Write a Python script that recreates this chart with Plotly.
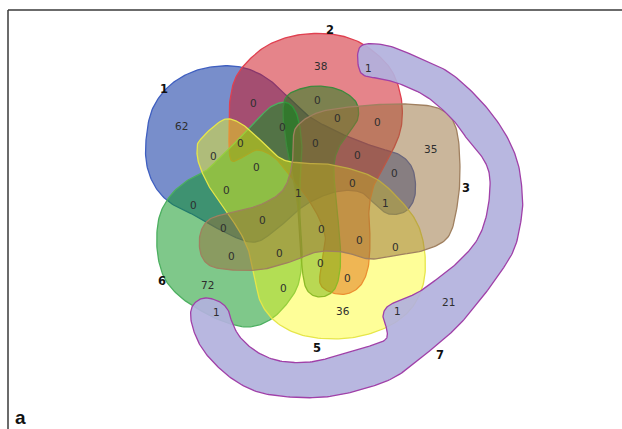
import numpy as np
import plotly.graph_objects as go

W, H = 622, 429

# Outline control points of each set (pixel space, y grows downward)
set_ids = ["1", "2", "6", "4", "5", "3", "7"]
set_outlines = {
    "1": [(146,140),(152,110),(168,87),(192,72),(220,66),(245,68),(268,79),(288,97),(310,117),(342,134),(375,147),(400,155),(413,170),(415,195),(406,211),(389,214),(376,205),(360,192),(335,192),(305,205),(278,228),(255,242),(228,234),(198,217),(172,204),(156,188),(147,166)],
    "2": [(230,100),(236,77),(250,59),(270,44),(298,35),(330,34),(357,41),(379,56),(393,73),(401,97),(402,121),(397,141),(386,162),(374,185),(369,210),(370,240),(368,268),(360,286),(346,294),(330,292),(320,283),(322,262),(325,235),(312,205),(292,178),(275,158),(258,150),(245,156),(231,160),(229,130)],
    "3": [(298,125),(320,112),(360,106),(405,104),(440,109),(456,128),(460,170),(457,207),(448,237),(425,250),(397,255),(370,259),(343,252),(317,252),(290,262),(257,270),(217,268),(202,257),(200,235),(210,219),(235,212),(262,204),(283,190),(292,165),(293,140)],
    "4": [(287,96),(300,89),(318,86),(340,90),(356,102),(358,118),(350,131),(340,145),(334,165),(336,200),(340,240),(340,270),(334,290),(320,297),(307,290),(302,268),(300,240),(297,200),(290,165),(285,135),(283,110)],
    "5": [(200,140),(223,120),(240,123),(257,137),(280,158),(300,163),(333,165),(373,177),(400,200),(418,225),(425,255),(423,285),(410,310),(385,328),(350,338),(310,337),(280,325),(262,305),(255,280),(250,255),(240,232),(225,210),(210,188),(200,167),(197,152)],
    "6": [(207,170),(188,180),(170,196),(159,218),(157,248),(163,275),(177,294),(198,309),(222,321),(247,327),(268,321),(285,306),(298,285),(302,255),(300,220),(300,185),(302,150),(298,118),(288,103),(272,106),(257,120),(240,138),(222,155)],
    "7": [(360,47),(385,45),(417,57),(450,73),(480,100),(503,130),(517,160),(522,190),(522,213),(515,247),(500,273),(480,300),(457,327),(427,353),(395,377),(360,390),(325,397),(290,397),(258,392),(234,380),(214,363),(200,345),(192,325),(191,310),(197,301),(207,298),(220,302),(228,310),(232,322),(240,337),(257,352),(280,361),(310,362),(340,355),(367,347),(385,340),(387,330),(383,317),(387,307),(400,300),(417,293),(433,282),(457,263),(477,240),(487,213),(490,180),(484,160),(470,143),(453,120),(427,97),(400,84),(383,79),(361,73)],
}
set_fill = {
    "1": "rgba(10,50,160,0.55)",
    "2": "rgba(205,20,30,0.52)",
    "3": "rgba(150,110,55,0.50)",
    "4": "rgba(20,125,20,0.50)",
    "5": "rgba(252,252,10,0.42)",
    "6": "rgba(10,150,30,0.52)",
    "7": "rgba(178,177,221,0.92)",
}
set_line = {
    "1": "#3f5fc0", "2": "#e04050", "3": "#a08060", "4": "#3d8a3d",
    "5": "#e6e64a", "6": "#4caf60", "7": "#a040a8",
}

# Set names and where they are printed
set_names = ["1", "2", "3", "5", "6", "7"]
set_label_xy = [(164,89), (330,30), (466,188), (317,348), (162,281), (440,355)]

# Region counts and their anchor points
region_counts = [62, 38, 35, 36, 72, 21, 1, 1, 1,
                 0, 0, 0, 0, 0, 0, 0, 0, 0, 0, 0, 0, 1, 0, 1, 0, 0,
                 0, 0, 0, 0, 0, 0, 0, 0, 0]
region_xy = [(181,126), (320,66), (430,149), (343,311), (207,285), (448,302),
             (368,68), (216,312), (397,311),
             (253,103), (317,100), (282,127), (337,118), (377,122), (240,143),
             (213,156), (315,143), (357,155), (256,167), (394,173), (226,190),
             (298,193), (352,183), (385,203), (193,205), (223,228),
             (262,220), (321,229), (359,240), (395,247), (231,256), (279,253),
             (320,263), (347,278), (283,288)]


def closed_spline(pts, n=14):
    p = np.array(pts, dtype=float)
    m = len(p)
    out = []
    for i in range(m):
        p0, p1, p2, p3 = p[(i - 1) % m], p[i], p[(i + 1) % m], p[(i + 2) % m]
        for t in np.linspace(0, 1, n, endpoint=False):
            t2, t3 = t * t, t * t * t
            out.append(0.5 * ((2 * p1) + (-p0 + p2) * t
                              + (2 * p0 - 5 * p1 + 4 * p2 - p3) * t2
                              + (-p0 + 3 * p1 - 3 * p2 + p3) * t3))
    out.append(out[0])
    out = np.array(out)
    return out[:, 0], out[:, 1]


fig = go.Figure()
for sid in set_ids:
    xs, ys = closed_spline(set_outlines[sid])
    fig.add_trace(go.Scatter(
        x=xs, y=ys, mode="lines", fill="toself",
        fillcolor=set_fill[sid],
        line=dict(color=set_line[sid], width=1.3),
        hoverinfo="skip", showlegend=False, name=sid))

annotations = []
for v, (x, y) in zip(region_counts, region_xy):
    annotations.append(dict(x=x, y=y, text=str(v), showarrow=False,
                            font=dict(family="DejaVu Sans", size=10.5, color="#2e2e2e"),
                            xanchor="center", yanchor="middle"))
for name, (x, y) in zip(set_names, set_label_xy):
    annotations.append(dict(x=x, y=y, text="<b>%s</b>" % name, showarrow=False,
                            font=dict(family="DejaVu Sans", size=11.5, color="#111"),
                            xanchor="center", yanchor="middle"))
annotations.append(dict(x=20, y=417, text="<b>a</b>", showarrow=False,
                        font=dict(family="Liberation Sans", size=19, color="#111"),
                        xanchor="center", yanchor="middle"))

# panel frame: top and left edges
frame = [
    dict(type="line", x0=8, y0=10, x1=W, y1=10, line=dict(color="#3a3a3a", width=1.5)),
    dict(type="line", x0=8, y0=10, x1=8, y1=H, line=dict(color="#3a3a3a", width=1.5)),
]

fig.update_layout(
    width=W, height=H, margin=dict(l=0, r=0, t=0, b=0),
    paper_bgcolor="white", plot_bgcolor="white",
    xaxis=dict(range=[0, W], visible=False, fixedrange=True),
    yaxis=dict(range=[H, 0], visible=False, fixedrange=True),
    annotations=annotations, shapes=frame, showlegend=False,
)
fig.write_html("out.html")
